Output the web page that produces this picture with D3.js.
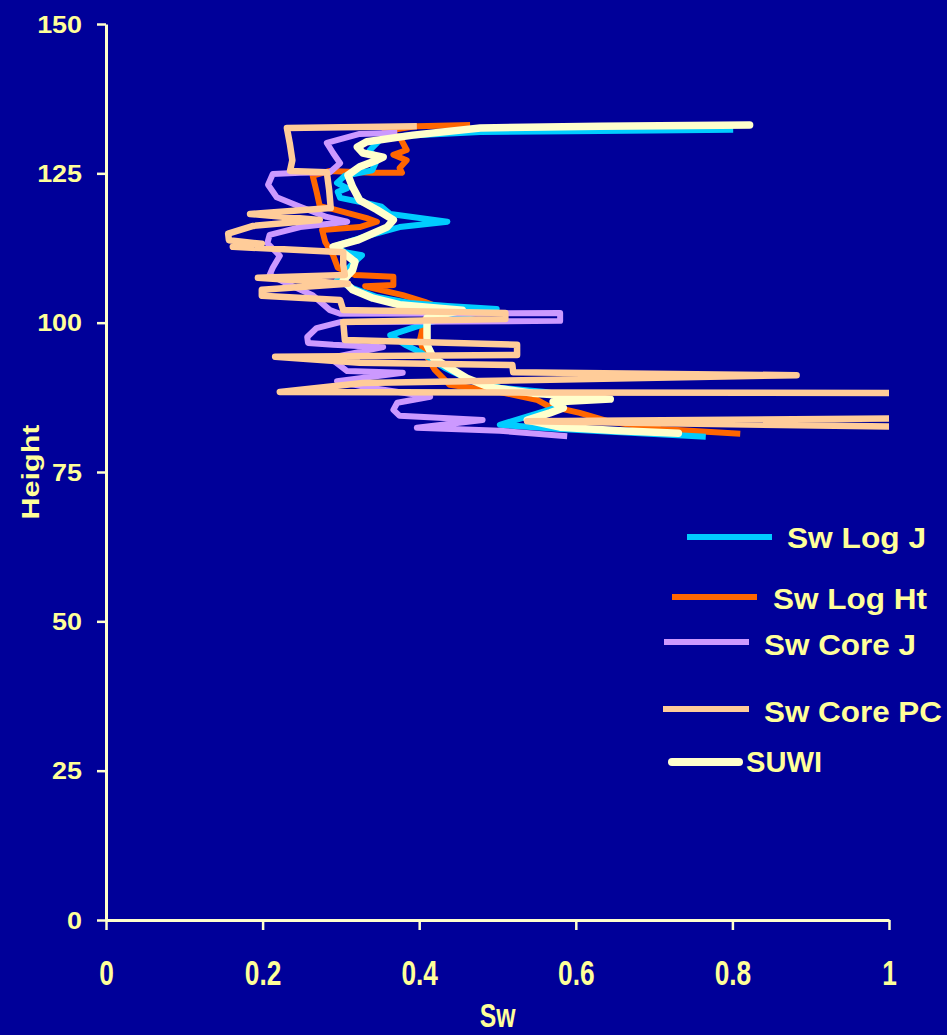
<!DOCTYPE html>
<html>
<head>
<meta charset="utf-8">
<script src="https://cdn.jsdelivr.net/npm/d3@7"></script>
<style>
  html, body { margin: 0; padding: 0; background: #000099; }
  svg { display: block; }
</style>
</head>
<body>
<svg id="chart"></svg>
<script>
// dados: cada ponto e [Sw, Height]
const seriesNames = ["Sw Log J", "Sw Log Ht", "Sw Core J", "Sw Core PC", "SUWI"];
const xTicks = [0, 0.2, 0.4, 0.6, 0.8, 1];
const yTicks = [0, 25, 50, 75, 100, 125, 150];

const swLogJ = [
  [0.801,132.3],[0.631,132.1],[0.478,131.9],[0.382,131.3],[0.350,130.6],[0.337,128.9],[0.346,127.2],
  [0.340,125.5],[0.305,124.6],[0.295,123.4],[0.308,122.5],[0.296,121.9],[0.299,120.9],[0.333,120.0],
  [0.352,119.4],[0.363,118.2],[0.436,116.9],[0.375,116.0],[0.333,114.5],[0.292,112.8],[0.305,111.8],
  [0.327,111.3],[0.312,109.5],[0.295,107.1],[0.315,105.8],[0.346,104.3],[0.388,103.3],[0.436,102.8],
  [0.499,102.3],[0.414,100.1],[0.363,97.9],[0.382,96.3],[0.401,95.1],[0.433,92.4],[0.465,90.4],
  [0.503,89.1],[0.561,88.4],[0.605,87.4],[0.586,86.6],[0.573,85.7],[0.548,84.7],[0.503,82.9],
  [0.580,82.2],[0.682,81.5],[0.766,80.9]
];

const swLogHt = [
  [0.465,133.1],[0.397,132.9],[0.356,132.1],[0.375,131.1],[0.384,128.9],[0.367,128.1],[0.384,127.2],
  [0.375,125.9],[0.378,125.1],[0.340,125.1],[0.286,125.4],[0.264,124.6],[0.269,121.9],[0.273,119.5],
  [0.290,119.0],[0.333,117.5],[0.346,116.9],[0.324,116.0],[0.276,115.5],[0.280,113.5],[0.290,111.3],
  [0.296,109.2],[0.318,108.0],[0.367,107.7],[0.367,106.3],[0.331,106.1],[0.350,105.5],[0.379,104.6],
  [0.407,103.5],[0.427,102.5],[0.407,100.5],[0.401,97.1],[0.405,95.4],[0.420,92.1],[0.439,89.6],
  [0.503,88.4],[0.550,87.1],[0.564,86.1],[0.605,84.9],[0.644,83.4],[0.708,82.2],[0.810,81.4]
];

const swCoreJ = [
  [0.372,131.8],[0.324,131.6],[0.282,130.1],[0.290,128.4],[0.299,126.7],[0.286,125.2],[0.248,125.1],
  [0.213,124.9],[0.207,123.1],[0.218,121.0],[0.248,119.4],[0.282,117.7],[0.308,116.9],[0.248,116.0],
  [0.209,114.7],[0.206,113.3],[0.222,111.2],[0.213,109.2],[0.209,108.0],[0.235,106.3],[0.264,104.6],
  [0.286,102.1],[0.299,101.5],[0.580,101.6],[0.580,100.3],[0.299,100.1],[0.269,99.1],[0.257,97.6],
  [0.258,96.6],[0.290,96.3],[0.354,95.9],[0.286,94.1],[0.308,91.9],[0.379,91.6],[0.295,90.2],
  [0.337,89.1],[0.414,87.6],[0.372,86.6],[0.367,85.4],[0.375,84.4],[0.481,83.7],[0.397,82.4],
  [0.503,81.9],[0.589,81.0]
];

const swCorePC = [
  [0.397,132.9],[0.231,132.6],[0.235,129.8],[0.238,127.2],[0.235,125.4],[0.282,125.2],[0.285,122.2],
  [0.287,119.2],[0.184,118.2],[0.273,117.2],[0.188,116.2],[0.156,114.9],[0.157,113.8],[0.199,113.2],
  [0.162,112.7],[0.303,111.8],[0.303,109.7],[0.305,108.0],[0.194,107.5],[0.309,106.5],[0.199,105.5],
  [0.199,104.5],[0.299,103.8],[0.303,102.1],[0.510,101.6],[0.510,100.6],[0.303,100.1],[0.305,97.1],
  [0.525,96.3],[0.525,94.6],[0.216,94.3],[0.324,93.3],[0.519,92.9],[0.520,91.7],[0.882,91.2],
  [0.550,90.4],[0.328,89.9],[0.222,88.4],[1.05,88.2],[1.05,84.0],[0.538,83.5],[1.05,82.5]
];

const suwi = [
  [0.822,133.1],[0.631,132.9],[0.478,132.6],[0.392,131.4],[0.333,130.3],[0.321,129.4],[0.328,128.4],
  [0.354,127.7],[0.346,127.2],[0.324,126.1],[0.309,124.7],[0.315,122.7],[0.324,120.5],[0.346,118.9],
  [0.367,117.2],[0.359,116.0],[0.321,113.8],[0.290,112.7],[0.303,111.7],[0.318,110.2],[0.315,108.8],
  [0.303,107.1],[0.315,105.5],[0.341,104.1],[0.375,103.0],[0.418,102.5],[0.455,102.1],[0.410,100.8],
  [0.410,96.3],[0.418,94.1],[0.439,92.4],[0.461,90.7],[0.490,89.2],[0.545,88.2],[0.609,87.6],
  [0.644,87.2],[0.571,86.7],[0.584,85.7],[0.567,84.9],[0.538,83.7],[0.580,82.5],[0.656,81.9],
  [0.731,81.5]
];

const width = 947;
const height = 1035;
const MARGINS = { top: 24, right: 58, bottom: 115, left: 106 };
const textColor = "#FFFF99";
const axisColor = "#FFFFCC";

// estilo de cada serie, na ordem da legenda
const styles = [
  { data: swLogJ,   color: "#00CCFF", w: 6 },
  { data: swLogHt,  color: "#FF6600", w: 6 },
  { data: swCoreJ,  color: "#CC99FF", w: 6 },
  { data: swCorePC, color: "#FFCC99", w: 6.5 },
  { data: suwi,     color: "#FFFFCC", w: 7.5 }
];
const drawOrder = [1, 0, 2, 4, 3];

const svg = d3.select("#chart")
  .attr("width", width)
  .attr("height", height)
  .style("font-family", "'Liberation Sans', Arial, sans-serif")
  .style("font-weight", "bold");

svg.append("rect").attr("width", width).attr("height", height).attr("fill", "#000099");

const x = d3.scaleLinear().domain([0, 1]).range([MARGINS.left, width - MARGINS.right]);
const y = d3.scaleLinear().domain([0, 150]).range([height - MARGINS.bottom, MARGINS.top]);

svg.append("clipPath").attr("id", "plot")
  .append("rect")
  .attr("x", x(0)).attr("y", y(150))
  .attr("width", x(1) - x(0)).attr("height", y(0) - y(150));

// linhas das series
const line = d3.line().x(d => x(d[0])).y(d => y(d[1]));
const lines = svg.append("g").attr("clip-path", "url(#plot)");
drawOrder.forEach(i => {
  lines.append("path")
    .attr("d", line(styles[i].data))
    .attr("fill", "none")
    .attr("stroke", styles[i].color)
    .attr("stroke-width", styles[i].w)
    .attr("stroke-linejoin", "round")
    .attr("stroke-linecap", i === 4 ? "round" : "butt");
});

// eixos
const yAxis = d3.axisLeft(y).tickValues(yTicks).tickSize(9).tickSizeOuter(0).tickFormat(d => d);
const xAxis = d3.axisBottom(x).tickValues(xTicks).tickSize(10).tickSizeOuter(0).tickFormat(d => d);

const gy = svg.append("g").attr("transform", `translate(${x(0)},0)`).call(yAxis);
const gx = svg.append("g").attr("transform", `translate(0,${y(0)})`).call(xAxis);

[gx, gy].forEach(g => {
  g.select(".domain").attr("stroke", axisColor).attr("stroke-width", 3);
  g.selectAll(".tick line").attr("stroke", axisColor).attr("stroke-width", 2.5);
});

gy.selectAll(".tick text")
  .attr("fill", textColor)
  .attr("font-size", 23)
  .attr("font-family", "'Liberation Sans', Arial, sans-serif")
  .attr("font-weight", "bold")
  .attr("x", -20.5)
  .attr("dy", "0.36em")
  .attr("transform", "scale(1.17,1)");

gx.selectAll(".tick text")
  .attr("fill", textColor)
  .attr("font-size", 35)
  .attr("font-family", "'Liberation Sans', Arial, sans-serif")
  .attr("font-weight", "bold")
  .attr("y", 0)
  .attr("dy", 0)
  .attr("transform", "translate(0,65) scale(0.75,1)");

// titulos dos eixos
svg.append("text")
  .text("Sw")
  .attr("transform", `translate(${(x(0) + x(1)) / 2},1027) scale(0.75,1)`)
  .attr("text-anchor", "middle")
  .attr("font-size", 33)
  .attr("fill", textColor);

svg.append("text")
  .text("Height")
  .attr("transform", `translate(39,${y(75)}) rotate(-90)`)
  .attr("text-anchor", "middle")
  .attr("font-size", 24)
  .attr("textLength", 95)
  .attr("lengthAdjust", "spacingAndGlyphs")
  .attr("fill", textColor);

// legenda
const legendPos = [
  { x1: 687, x2: 772, tx: 787, ly: 537, ty: 548, len: 139 },
  { x1: 672, x2: 757, tx: 773, ly: 597, ty: 609, len: 154 },
  { x1: 664, x2: 749, tx: 764, ly: 642, ty: 655, len: 152 },
  { x1: 663, x2: 749, tx: 764, ly: 709, ty: 722, len: 178 },
  { x1: 672, x2: 739, tx: 746, ly: 762, ty: 772, len: 76 }
];

const legend = svg.append("g");
seriesNames.forEach((name, i) => {
  const p = legendPos[i];
  legend.append("line")
    .attr("x1", p.x1).attr("x2", p.x2)
    .attr("y1", p.ly).attr("y2", p.ly)
    .attr("stroke", styles[i].color)
    .attr("stroke-width", i === 4 ? 8 : 6)
    .attr("stroke-linecap", i === 4 ? "round" : "butt");
  legend.append("text")
    .text(name)
    .attr("x", p.tx).attr("y", p.ty)
    .attr("font-size", 30)
    .attr("textLength", p.len)
    .attr("lengthAdjust", "spacingAndGlyphs")
    .attr("fill", textColor);
});
</script>
</body>
</html>
